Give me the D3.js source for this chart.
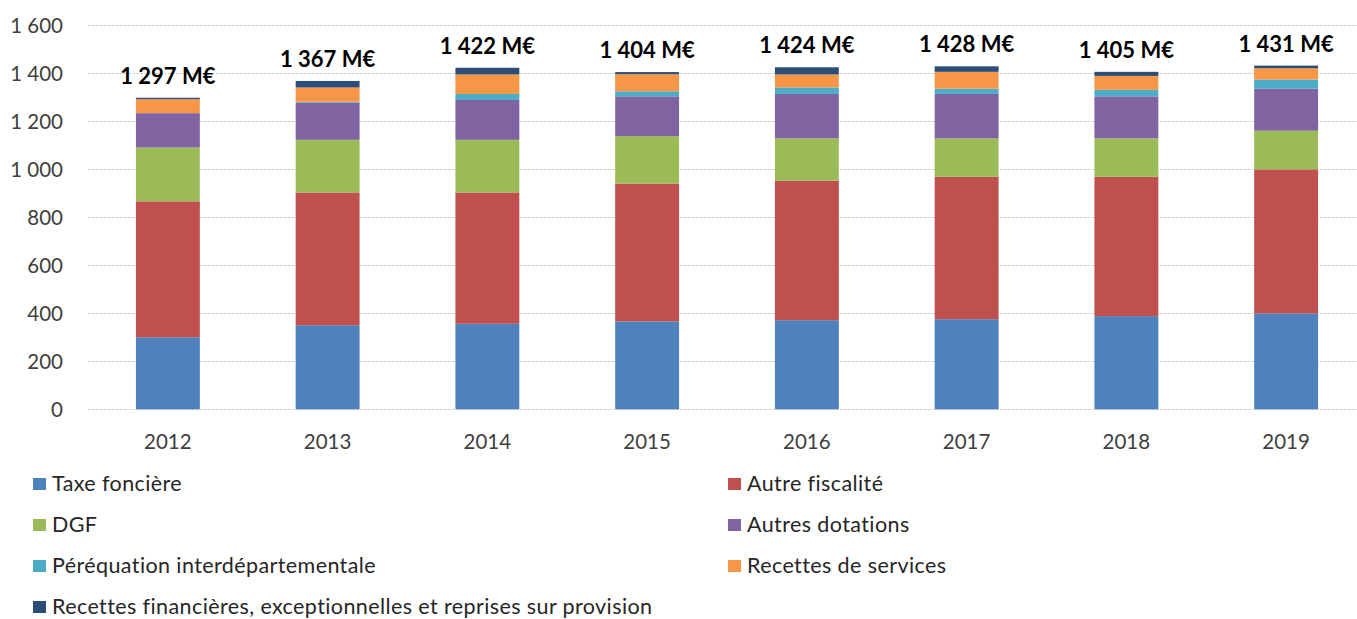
<!DOCTYPE html>
<html><head><meta charset="utf-8">
<script src="https://cdn.jsdelivr.net/npm/d3@7"></script>
<style>
html,body{margin:0;padding:0;background:#fff;}
text{font-family:Lato,"Noto Sans",sans-serif;}
</style></head>
<body>
<svg id="chart" width="1357" height="619"></svg>
<script>
const years = ["2012","2013","2014","2015","2016","2017","2018","2019"];
const seriesNames = ["Taxe foncière","Autre fiscalité","DGF","Autres dotations","Péréquation interdépartementale","Recettes de services","Recettes financières, exceptionnelles et reprises sur provision"];
const taxeFonciere   = [300, 350, 356, 366, 371, 375, 388, 399];
const autreFiscalite = [566, 553, 547, 574, 581, 593, 580, 600];
const dgf            = [224, 219, 219, 197, 176, 160, 160, 161];
const autresDotations= [143, 155, 166, 166, 185, 185, 175, 175];
const perequation    = [0,   3,   25,  21,  27,  22,  27,  38];
const recettesServ   = [58,  60,  81,  71,  54,  70,  58,  47];
const recettesFin    = [6,   27,  28,  9,   30,  23,  17,  11];
const totals = [1297, 1367, 1422, 1404, 1424, 1428, 1405, 1431];
const totalLabels = ["1 297 M€","1 367 M€","1 422 M€","1 404 M€","1 424 M€","1 428 M€","1 405 M€","1 431 M€"];
const yTicks = [0,200,400,600,800,1000,1200,1400,1600];
const colors = ["#4f81bd","#c0504d","#9bbb59","#8064a2","#4bacc6","#f79646","#2c4d75"];

const seriesValues = [taxeFonciere, autreFiscalite, dgf, autresDotations, perequation, recettesServ, recettesFin];
const keys = seriesNames;
const rows = years.map((y,i)=>{const r={year:y}; keys.forEach((k,j)=>r[k]=seriesValues[j][i]); return r;});
const stacked = d3.stack().keys(keys)(rows);

const svg = d3.select("#chart");
const x = d3.scaleBand().domain(years).range([88,1366]).paddingInner(0.6).paddingOuter(0.3);
const y = d3.scaleLinear().domain([0,1600]).range([409.3,25]);

const fmt = v => d3.format(",")(v).replace(/,/g," ");

// gridlines
svg.append("g").selectAll("line").data(yTicks).join("line")
  .attr("x1",88).attr("x2",1357)
  .attr("y1",d=>Math.round(y(d))+0.5).attr("y2",d=>Math.round(y(d))+0.5)
  .attr("stroke","#d4d4d4").attr("stroke-width",1.2).attr("stroke-dasharray","3,1");

// y axis labels
const yAxis = d3.axisLeft(y).tickValues(yTicks).tickFormat(fmt).tickSize(0).tickPadding(0);
const ga = svg.append("g").attr("transform","translate(63,0)").call(yAxis);
ga.select(".domain").remove();
ga.selectAll("text").attr("font-size","20.5px").attr("fill","#404040").attr("font-family","Lato").attr("dy","0.36em");

// bars
svg.append("g").selectAll("g").data(stacked).join("g")
  .attr("fill",(d,i)=>colors[i])
  .selectAll("rect").data(d=>d).join("rect")
  .attr("x",d=>x(d.data.year))
  .attr("width",x.bandwidth())
  .attr("y",d=>y(d[1]))
  .attr("height",d=>Math.max(0,y(d[0])-y(d[1])));

// total labels
svg.append("g").selectAll("text").data(years).join("text")
  .attr("x",d=>x(d)+x.bandwidth()/2)
  .attr("y",(d,i)=>y(totals[i])-14)
  .attr("text-anchor","middle")
  .attr("font-size","22px").attr("font-weight","bold").attr("fill","#000")
  .text((d,i)=>totalLabels[i]);

// x axis labels
const xAxis = d3.axisBottom(x).tickSize(0).tickPadding(0);
const gx = svg.append("g").attr("transform","translate(0,449)").call(xAxis);
gx.select(".domain").remove();
gx.selectAll("text").attr("font-size","20.5px").attr("fill","#404040").attr("font-family","Lato").attr("dy","0");

// legend
const legend = svg.append("g");
seriesNames.forEach((name,i)=>{
  const col = i%2, row = Math.floor(i/2);
  const lx = col===0 ? 33 : 728;
  const ly = 484 + row*41;
  legend.append("rect").attr("x",lx).attr("y",ly-6).attr("width",13).attr("height",12).attr("fill",colors[i]);
  legend.append("text").attr("x",lx+19).attr("y",ly+6.7).attr("font-size","21.5px").attr("letter-spacing","0.4px").attr("fill","#262626").text(name);
});
</script>
</body></html>
